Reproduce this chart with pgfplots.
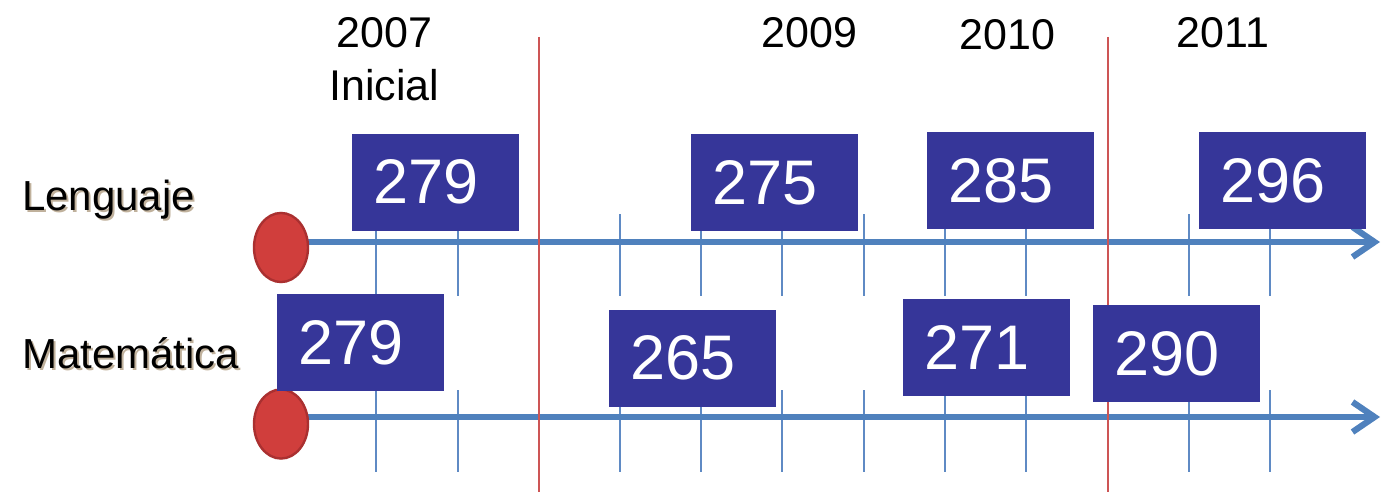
\documentclass[border=0pt]{standalone}
\usepackage{pgfplots}
\pgfplotsset{compat=1.18}
\usepackage{fontspec}
\setmainfont{Liberation Sans}
\usetikzlibrary{arrows.meta,shadings}
\definecolor{boxblue}{RGB}{54,54,153}
\definecolor{lineblue}{RGB}{79,129,189}
\definecolor{tickblue}{RGB}{95,138,196}
\definecolor{redline}{RGB}{205,85,85}
\definecolor{ballred}{RGB}{208,62,60}
\definecolor{balledge}{RGB}{170,48,48}
\definecolor{shadowc}{RGB}{150,125,90}

\pgfplotstableread{
x y label
435.5 182 279
774.5 182.5 275
1010.5 180.5 285
1282.5 180.5 296
360.5 342.5 279
692.5 358 265
986.5 347.5 271
1176.5 353.5 290
}\boxes

\begin{document}
\begin{tikzpicture}
\begin{axis}[scale only axis, width=692pt, height=246pt,
  xmin=0, xmax=1384, ymin=0, ymax=492, y dir=reverse,
  hide axis, clip=false, unbounded coords=jump]
% tick marks
\addplot[tickblue, line width=1pt] coordinates {
(376,214)(376,296)(376,nan)(458,214)(458,296)(458,nan)(539,214)(539,296)(539,nan)
(620,214)(620,296)(620,nan)(701,214)(701,296)(701,nan)(782,214)(782,296)(782,nan)
(864,214)(864,296)(864,nan)(945,214)(945,296)(945,nan)(1026,214)(1026,296)(1026,nan)
(1108,214)(1108,296)(1108,nan)(1189,214)(1189,296)(1189,nan)(1270,214)(1270,296)(1270,nan)
(376,390)(376,472)(376,nan)(458,390)(458,472)(458,nan)(539,390)(539,472)(539,nan)
(620,390)(620,472)(620,nan)(701,390)(701,472)(701,nan)(782,390)(782,472)(782,nan)
(864,390)(864,472)(864,nan)(945,390)(945,472)(945,nan)(1026,390)(1026,472)(1026,nan)
(1108,390)(1108,472)(1108,nan)(1189,390)(1189,472)(1189,nan)(1270,390)(1270,472)
};
% timelines
\addplot[lineblue, line width=3.1pt, -{Straight Barb[length=11pt,width=15pt]}] coordinates {(281,242)(1380,242)};
\addplot[lineblue, line width=3.1pt, -{Straight Barb[length=11pt,width=15pt]}] coordinates {(281,417)(1380,417)};
% red separators
\addplot[redline, line width=0.8pt] coordinates {(539,37)(539,492)(539,nan)(1108,37)(1108,492)};
% start balls
\addplot[only marks, mark=*, mark size=13.5pt, mark options={fill=ballred, draw=balledge, line width=1.2pt, yscale=1.28}] coordinates {(281,247.5)(281,424)};
% value boxes
\addplot[draw=none, mark=none, nodes near coords, point meta=explicit symbolic,
  nodes near coords style={anchor=center, fill=boxblue, text=white,
    font=\fontsize{31.5}{36}\selectfont, text width=62.5pt, inner xsep=10.5pt,
    inner ysep=0pt, minimum height=48.5pt, align=left}]
  table[x=x, y=y, meta=label] {\boxes};
% row labels
\node[anchor=base west, text=shadowc, opacity=0.6, font=\fontsize{21}{25}\selectfont] at (axis cs:17,212) {Lenguaje};
\node[anchor=base west, font=\fontsize{21}{25}\selectfont] at (axis cs:15,210) {Lenguaje};
\node[anchor=base west, text=shadowc, opacity=0.6, font=\fontsize{21}{25}\selectfont] at (axis cs:17,370) {Matemática};
\node[anchor=base west, font=\fontsize{21}{25}\selectfont] at (axis cs:15,368) {Matemática};
% year labels
\node[anchor=base, font=\fontsize{21.5}{25}\selectfont] at (axis cs:384.5,48) {2007};
\node[anchor=base, font=\fontsize{21.5}{25}\selectfont] at (axis cs:384.5,100) {Inicial};
\node[anchor=base, font=\fontsize{21.5}{25}\selectfont] at (axis cs:809.5,48) {2009};
\node[anchor=base, font=\fontsize{21.5}{25}\selectfont] at (axis cs:1007.5,50) {2010};
\node[anchor=base, font=\fontsize{21.5}{25}\selectfont] at (axis cs:1223,48) {2011};
\end{axis}
\pgfresetboundingbox
\path (current axis.south west) rectangle (current axis.north east);
\end{tikzpicture}
\end{document}
